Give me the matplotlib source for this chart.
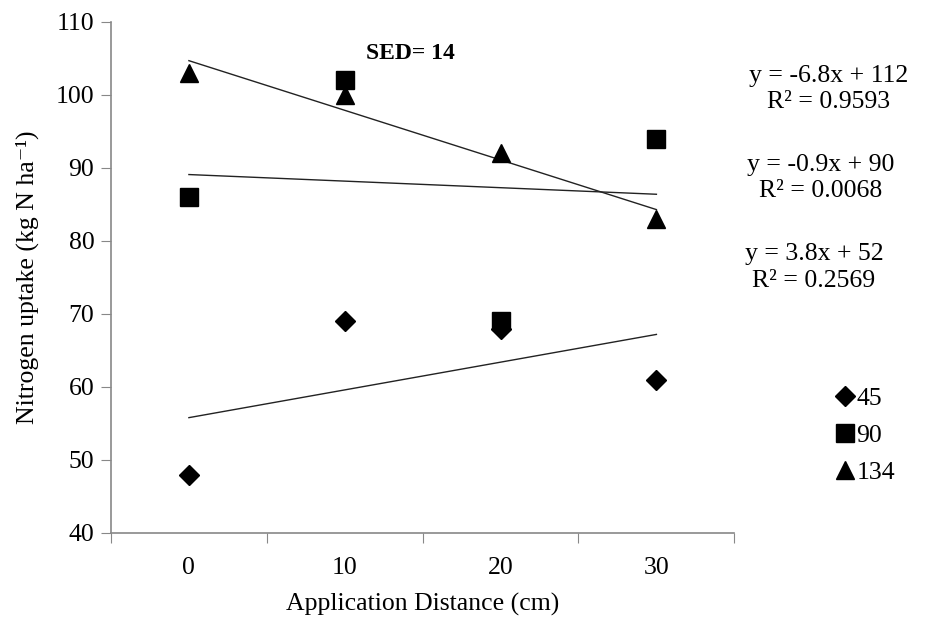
import matplotlib.pyplot as plt
import numpy as np

plt.rcParams["font.family"] = ["Liberation Serif", "DejaVu Serif"]

distance = [0, 10, 20, 30]
series_names = ["45", "90", "134"]
uptake_45 = [48, 69, 68, 61]
uptake_90 = [86, 102, 69, 94]
uptake_134 = [103, 100, 92, 83]
equations = [
    "y = 3.8x + 52\nR² = 0.2569",
    "y = -0.9x + 90\nR² = 0.0068",
    "y = -6.8x + 112\nR² = 0.9593",
]
sed_label = "SED= 14"

markers = ["D", "s", "^"]
msizes = [10, 12.5, 13]
eq_pos = [(0.877, 0.574), (0.884, 0.716), (0.893, 0.858)]

fig = plt.figure(figsize=(9.28, 6.28), dpi=100)
ax = fig.add_axes([0.1196, 0.1513, 0.6717, 0.8137])

x = np.array(distance, dtype=float)
idx = np.arange(1, len(distance) + 1)  # Excel category index for the trend fit
handles = []
for vals, m, ms in zip([uptake_45, uptake_90, uptake_134], markers, msizes):
    (h,) = ax.plot(x, vals, linestyle="none", marker=m, markersize=ms,
                   color="black", zorder=3)
    handles.append(h)
    slope, icpt = np.polyfit(idx, vals, 1)
    ax.plot(x, slope * idx + icpt, color="#222222", lw=1.0, zorder=2)

for txt, (tx, ty) in zip(equations, eq_pos):
    fig.text(tx, ty, txt, ha="center", va="center", fontsize=18.5,
             linespacing=1.25)

ax.text(0.48, 0.938, sed_label, transform=ax.transAxes, ha="center",
        va="center", fontsize=17, fontweight="bold")

ax.set_xlim(-5, 35)
ax.set_ylim(40, 110)
ax.set_yticks(np.arange(40, 111, 10))
ax.set_xticks([-5, 5, 15, 25, 35])
ax.set_xticklabels([])
ax.set_xticks(distance, minor=True)
ax.set_xticklabels([str(d) for d in distance], minor=True)
ax.tick_params(axis="x", which="minor", length=0, pad=17, labelsize=18.5)
ax.tick_params(axis="x", which="major", length=7, color="#888888")
ax.tick_params(axis="y", length=7, color="#888888", labelsize=18.5, pad=5)

for s in ["top", "right"]:
    ax.spines[s].set_visible(False)
for s in ["left", "bottom"]:
    ax.spines[s].set_color("#888888")
    ax.spines[s].set_linewidth(1.2)

ax.set_xlabel("Application Distance (cm)", fontsize=18.5, labelpad=10)
ax.set_ylabel("Nitrogen uptake (kg N ha⁻¹)", fontsize=18.5, labelpad=12)

fig.legend(handles, series_names, loc="center left",
           bbox_to_anchor=(0.887, 0.307), frameon=False, fontsize=18.5,
           handlelength=0.7, handletextpad=0.1, labelspacing=0.55,
           borderpad=0)

fig.savefig("out.png", dpi=100)
